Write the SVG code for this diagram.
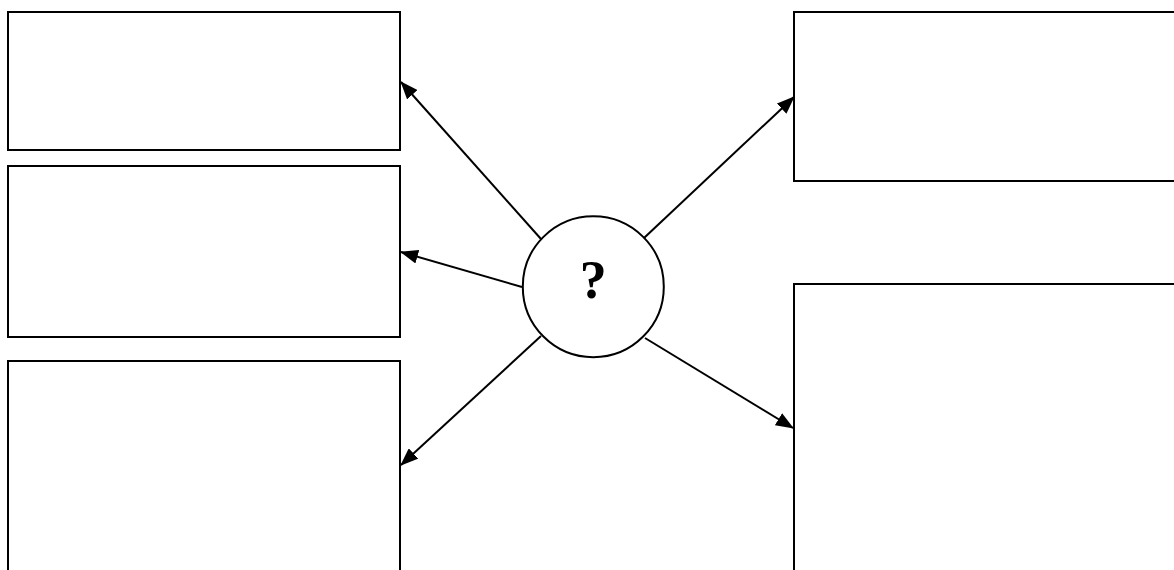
<svg xmlns="http://www.w3.org/2000/svg" width="1174" height="570" viewBox="0 0 1174 570">
<style>
.box{fill:#fff;stroke:#000;stroke-width:2}
.con{stroke:#000;stroke-width:2;fill:none;marker-end:url(#ah)}
.q{font-family:"Liberation Serif","Times New Roman",serif;font-weight:bold;font-size:54px;fill:#000}
</style>
<defs>
<marker id="ah" viewBox="0 0 18 14" refX="17" refY="7" markerWidth="18" markerHeight="14" markerUnits="userSpaceOnUse" orient="auto">
<path d="M0,0 L18,7 L0,14 Z" fill="#000"/>
</marker>
</defs>
<rect width="1174" height="570" fill="#fff"/>
<g id="box1"><rect class="box" x="8" y="12" width="392" height="138"/></g>
<g id="box2"><rect class="box" x="8" y="166" width="392" height="171"/></g>
<g id="box3"><rect class="box" x="8" y="361" width="392" height="220"/></g>
<g id="box4"><rect class="box" x="794" y="12" width="390" height="169"/></g>
<g id="box5"><rect class="box" x="794" y="284" width="390" height="300"/></g>
<g id="connectors">
<line class="con" x1="541" y1="239" x2="401" y2="82"/>
<line class="con" x1="522" y1="287" x2="401" y2="252"/>
<line class="con" x1="541" y1="336" x2="401" y2="465"/>
<line class="con" x1="644" y1="238" x2="794" y2="97"/>
<line class="con" x1="645" y1="338" x2="793" y2="428"/>
</g>
<g id="center">
<circle cx="593.3" cy="286.7" r="70.5" fill="#fff" stroke="#000" stroke-width="2"/>
<text class="q" x="593.3" y="298" text-anchor="middle">?</text>
</g>
</svg>
